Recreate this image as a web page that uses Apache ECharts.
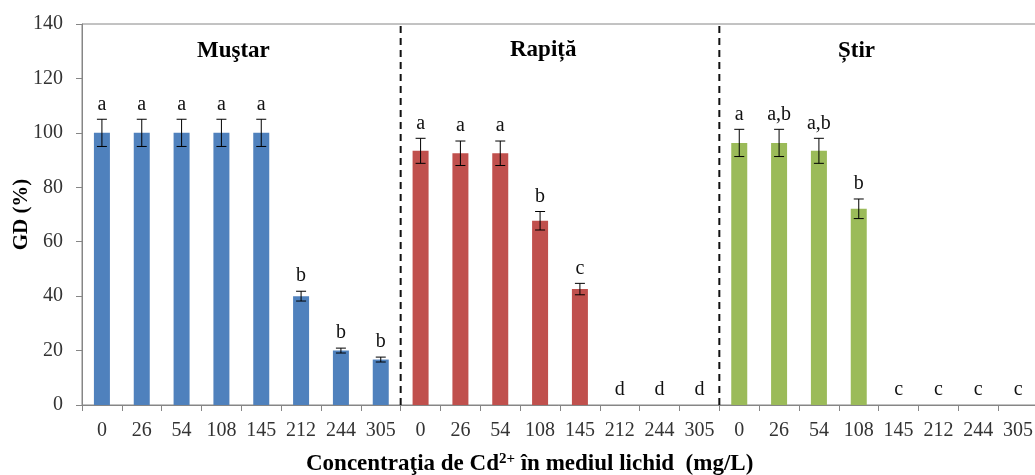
<!DOCTYPE html>
<html>
<head>
<meta charset="utf-8">
<script src="https://cdn.jsdelivr.net/npm/echarts@6/dist/echarts.min.js"></script>
<style>
  html, body { margin: 0; padding: 0; background: #fff; }
  #chart { width: 1035px; height: 475px; }
</style>
</head>
<body>
<div id="chart"></div>
<script>
// Cd2+ concentrations (mg/L) tested for each species
const concentrations = ['0', '26', '54', '108', '145', '212', '244', '305'];
const yTicks = [0, 20, 40, 60, 80, 100, 120, 140];

// Germination (GD, %), standard error and significance letters per species
const mustarGD = [100, 100, 100, 100, 100, 40, 20, 16.7];
const mustarErr = [5, 5, 5, 5, 5, 1.8, 0.9, 0.9];
const mustarLetters = ['a', 'a', 'a', 'a', 'a', 'b', 'b', 'b'];

const rapitaGD = [93.4, 92.5, 92.5, 67.7, 42.6, 0, 0, 0];
const rapitaErr = [4.6, 4.5, 4.5, 3.4, 2.1, 0, 0, 0];
const rapitaLetters = ['a', 'a', 'a', 'b', 'c', 'd', 'd', 'd'];

const stirGD = [96.3, 96.3, 93.4, 72.1, 0, 0, 0, 0];
const stirErr = [5, 5, 4.6, 3.6, 0, 0, 0, 0];
const stirLetters = ['a', 'a,b', 'a,b', 'b', 'c', 'c', 'c', 'c'];

const species = ['Muştar', 'Rapiță', 'Știr'];
const speciesColors = ['#4F81BD', '#C0504D', '#9BBB59'];

// Build the 24-slot category axis (three blocks of 8 concentrations)
const groups = [
  { gd: mustarGD, err: mustarErr, letters: mustarLetters },
  { gd: rapitaGD, err: rapitaErr, letters: rapitaLetters },
  { gd: stirGD, err: stirErr, letters: stirLetters }
];
const n = concentrations.length;
const categories = [].concat(concentrations, concentrations, concentrations);
const allLetters = [];
const errData = [];
groups.forEach((g, gi) => {
  g.gd.forEach((v, i) => {
    errData.push([gi * n + i, v, g.err[i]]);
    allLetters.push(g.letters[i]);
  });
});
const barSeries = groups.map((g, gi) => {
  const data = categories.map(() => '-');
  g.gd.forEach((v, i) => { data[gi * n + i] = v; });
  return {
    type: 'bar',
    name: species[gi],
    data: data,
    barWidth: 16,
    barGap: '-100%',
    itemStyle: { color: speciesColors[gi] },
    silent: true,
    z: 2
  };
});

const serif = '"Liberation Serif", "DejaVu Serif", serif';
const chart = echarts.init(document.getElementById('chart'), null, { renderer: 'canvas' });

chart.setOption({
  animation: false,
  backgroundColor: '#ffffff',
  grid: {
    left: 82, right: -3, top: 24, bottom: 70,
    containLabel: false,
    outerBoundsMode: 'none',
    show: true, borderColor: '#868686', borderWidth: 1,
    backgroundColor: 'transparent'
  },
  xAxis: [{
    type: 'category',
    data: categories,
    axisLine: { lineStyle: { color: '#868686', width: 1 } },
    axisTick: { show: true, length: 6, lineStyle: { color: '#868686' } },
    axisLabel: { color: '#333', fontFamily: serif, fontSize: 20, margin: 16, interval: 0 },
    splitLine: { show: false }
  }, {
    type: 'value', min: 0, max: categories.length, show: false
  }],
  yAxis: {
    type: 'value',
    min: yTicks[0], max: yTicks[yTicks.length - 1], interval: yTicks[1] - yTicks[0],
    name: 'GD (%)',
    nameLocation: 'middle',
    nameRotate: 90,
    nameGap: 50,
    nameMoveOverlap: false,
    nameTextStyle: { color: '#000', fontFamily: serif, fontSize: 21, fontWeight: 'bold' },
    axisLine: { show: true, lineStyle: { color: '#868686', width: 1 } },
    axisTick: { show: true, length: 6, lineStyle: { color: '#868686' } },
    axisLabel: { color: '#333', fontFamily: serif, fontSize: 20, margin: 19 },
    splitLine: { show: false }
  },
  graphic: [
    { type: 'text', left: 197, top: 40, style: { text: species[0], font: 'bold 23px ' + serif, fill: '#000' } },
    { type: 'text', left: 510, top: 39, style: { text: species[1], font: 'bold 23px ' + serif, fill: '#000' } },
    { type: 'text', left: 838, top: 40, style: { text: species[2], font: 'bold 23px ' + serif, fill: '#000' } },
    {
      type: 'text', left: 306, top: 452,
      style: {
        text: '{t|Concentraţia de Cd}{s|2+}{t| în mediul lichid  (mg/L)}',
        rich: {
          t: { font: 'bold 23px ' + serif, fill: '#000' },
          s: { font: 'bold 15px ' + serif, fill: '#000', verticalAlign: 'top', padding: [0, 0, 9, 0] }
        }
      }
    }
  ],
  series: barSeries.concat([
    {
      // Error bars and significance letters
      type: 'custom',
      xAxisIndex: 0,
      data: errData,
      encode: { x: 0, y: 1 },
      z: 5,
      silent: true,
      renderItem: function (params, api) {
        const x = api.value(0), v = api.value(1), e = api.value(2);
        const top = api.coord([x, v + e]);
        const bot = api.coord([x, v - e]);
        const cap = 5;
        const children = [];
        if (e > 0) {
          const ls = { stroke: '#000', lineWidth: 1 };
          children.push(
            { type: 'line', shape: { x1: top[0], y1: top[1], x2: bot[0], y2: bot[1] }, style: ls },
            { type: 'line', shape: { x1: top[0] - cap, y1: top[1], x2: top[0] + cap, y2: top[1] }, style: ls },
            { type: 'line', shape: { x1: bot[0] - cap, y1: bot[1], x2: bot[0] + cap, y2: bot[1] }, style: ls }
          );
        }
        children.push({
          type: 'text',
          x: top[0], y: top[1] - 15,
          style: {
            text: allLetters[params.dataIndex],
            font: '20px ' + serif, fill: '#111',
            align: 'center', verticalAlign: 'middle'
          }
        });
        return { type: 'group', children: children };
      }
    },
    {
      // Dashed separators between species blocks
      type: 'custom',
      xAxisIndex: 1,
      data: [[n, 0], [2 * n, 0]],
      encode: { x: 0, y: 1 },
      z: 4,
      silent: true,
      renderItem: function (params, api) {
        const b = api.coord([api.value(0), yTicks[0]]);
        const t = api.coord([api.value(0), yTicks[yTicks.length - 1]]);
        return {
          type: 'line',
          shape: { x1: b[0], y1: b[1], x2: t[0], y2: t[1] },
          style: { stroke: '#111', lineWidth: 2, lineDash: [7, 5] }
        };
      }
    }
  ])
});
</script>
</body>
</html>
